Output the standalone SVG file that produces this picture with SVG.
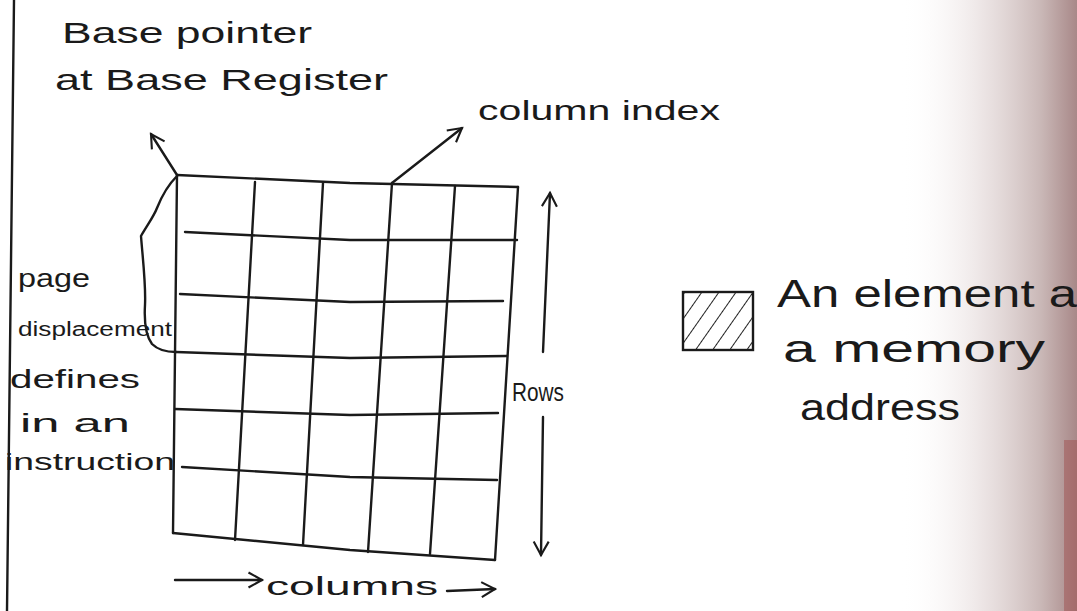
<svg xmlns="http://www.w3.org/2000/svg" width="1077" height="611" viewBox="0 0 1077 611">
  <defs>
    <linearGradient id="shade" x1="0" y1="0" x2="1" y2="0">
      <stop offset="0" stop-color="#ffffff" stop-opacity="0"/>
      <stop offset="0.45" stop-color="#e6dcdc" stop-opacity="0.7"/>
      <stop offset="0.8" stop-color="#c9b7b6"/>
      <stop offset="1" stop-color="#a88888"/>
    </linearGradient>
    <pattern id="hatch" patternUnits="userSpaceOnUse" width="14" height="14" patternTransform="rotate(35)">
      <line x1="0" y1="0" x2="0" y2="14" stroke="#222" stroke-width="2"/>
    </pattern>
    <marker id="openL" viewBox="0 0 12 12" refX="10" refY="6" markerWidth="18" markerHeight="18" markerUnits="userSpaceOnUse" orient="auto">
      <path d="M1,1 L10,6 L1,11" fill="none" stroke="#1a1a1a" stroke-width="1.4"/>
    </marker>
  </defs>
  <style>
    .ink { stroke:#1a1a1a; stroke-width:2.4; fill:none; stroke-linecap:round; stroke-linejoin:round; }
    .hw { font-family:"Liberation Sans", Arial, sans-serif; fill:#1a1a1a; }
  </style>

  <rect x="0" y="0" width="1077" height="611" fill="#ffffff"/>
  <rect x="900" y="0" width="177" height="611" fill="url(#shade)"/>
  <rect x="1064" y="440" width="13" height="171" fill="#a05050" opacity="0.5"/>

  <g id="page-edge">
    <line x1="14" y1="0" x2="7" y2="611" class="ink"/>
  </g>

  <g id="grid">
    <polyline class="ink" points="177,175 350,183 518,187"/>
    <polyline class="ink" points="185,232 350,240 517,240"/>
    <polyline class="ink" points="180,294 350,302 503,301"/>
    <polyline class="ink" points="176,352 350,358 507,356"/>
    <polyline class="ink" points="175,409 350,415 498,413"/>
    <polyline class="ink" points="182,467 350,477 497,480"/>
    <polyline class="ink" points="173,533 350,550 495,560"/>
    <line class="ink" x1="177" y1="175" x2="173" y2="533"/>
    <line class="ink" x1="255" y1="182" x2="235" y2="540"/>
    <line class="ink" x1="323" y1="183" x2="303" y2="545"/>
    <line class="ink" x1="392" y1="183" x2="368" y2="552"/>
    <line class="ink" x1="455" y1="186" x2="430" y2="554"/>
    <line class="ink" x1="518" y1="187" x2="495" y2="560"/>
  </g>

  <g id="legend">
    <rect x="683" y="292" width="70" height="58" fill="url(#hatch)" stroke="#1a1a1a" stroke-width="2.4"/>
    <text class="hw" font-size="38" x="777" y="307" textLength="300" lengthAdjust="spacingAndGlyphs">An element a</text>
    <text class="hw" font-size="38" x="783" y="362" textLength="262" lengthAdjust="spacingAndGlyphs">a memory</text>
    <text class="hw" font-size="36" x="800" y="420" textLength="160" lengthAdjust="spacingAndGlyphs">address</text>
  </g>

  <g id="label-base">
    <text class="hw" font-size="30" x="62" y="43" textLength="250" lengthAdjust="spacingAndGlyphs">Base pointer</text>
    <text class="hw" font-size="30" x="55" y="90" textLength="333" lengthAdjust="spacingAndGlyphs">at Base Register</text>
  </g>

  <g id="label-column-index">
    <text class="hw" font-size="28" x="478" y="120" textLength="242" lengthAdjust="spacingAndGlyphs">column index</text>
  </g>

  <g id="label-page">
    <text class="hw" font-size="26" x="18" y="287" textLength="72" lengthAdjust="spacingAndGlyphs">page</text>
    <text class="hw" font-size="20" x="18" y="336" textLength="154" lengthAdjust="spacingAndGlyphs">displacement</text>
    <text class="hw" font-size="26" x="10" y="388" textLength="130" lengthAdjust="spacingAndGlyphs">defines</text>
    <text class="hw" font-size="26" x="20" y="432" textLength="110" lengthAdjust="spacingAndGlyphs">in an</text>
    <text class="hw" font-size="24" x="5" y="470" textLength="170" lengthAdjust="spacingAndGlyphs">instruction</text>
  </g>

  <g id="label-rows">
    <text class="hw" font-size="26" x="512" y="401" textLength="52" lengthAdjust="spacingAndGlyphs">Rows</text>
  </g>

  <g id="label-columns">
    <text class="hw" font-size="26" x="266" y="595" textLength="172" lengthAdjust="spacingAndGlyphs">columns</text>
  </g>

  <g id="connectors">
    <line class="ink" x1="177" y1="175" x2="151" y2="134" marker-end="url(#openL)"/>
    <path class="ink" d="M177,176 C167,186 161,198 157,208 C154,216 148,224 141,236 C143,262 146,285 145,305 C144,322 146,336 152,344 C158,350 166,352 176,352"/>
    <line class="ink" x1="392" y1="183" x2="462" y2="128" marker-end="url(#openL)"/>
    <line class="ink" x1="543" y1="352" x2="550" y2="193" marker-end="url(#openL)"/>
    <line class="ink" x1="543" y1="417" x2="541" y2="555" marker-end="url(#openL)"/>
    <line class="ink" x1="175" y1="580" x2="262" y2="580" marker-end="url(#openL)"/>
    <line class="ink" x1="447" y1="591" x2="495" y2="589" marker-end="url(#openL)"/>
  </g>
</svg>
